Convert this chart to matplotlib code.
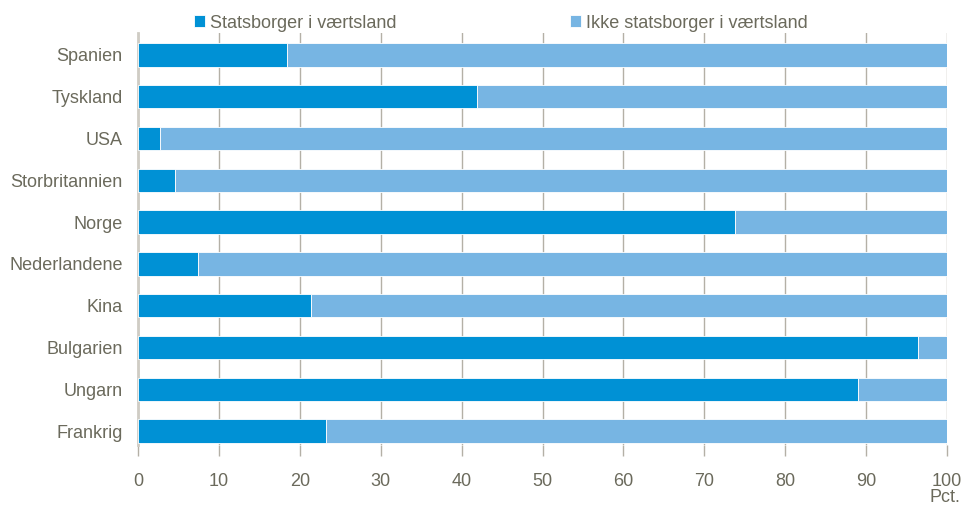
import matplotlib
matplotlib.use("Agg")
import matplotlib.pyplot as plt
import matplotlib.font_manager as fm

categories = ["Spanien", "Tyskland", "USA", "Storbritannien", "Norge",
              "Nederlandene", "Kina", "Bulgarien", "Ungarn", "Frankrig"]
statsborger = [18.4, 41.9, 2.7, 4.6, 73.8, 7.4, 21.4, 96.4, 89.0, 23.2]
ikke_statsborger = [100 - v for v in statsborger]
series_names = ["Statsborger i værtsland", "Ikke statsborger i værtsland"]
xticks = [0, 10, 20, 30, 40, 50, 60, 70, 80, 90, 100]

names = {f.name for f in fm.fontManager.ttflist}
family = "Liberation Sans Narrow" if "Liberation Sans Narrow" in names else "Liberation Sans"
plt.rcParams['font.family'] = [family, 'DejaVu Sans']

txt = "#6b6a5c"
c_dark = "#0091d5"
c_light = "#77b5e3"
grid_c = "#b4b0a6"
fs = 13

fig = plt.figure(figsize=(9.68, 5.08), dpi=100)
ax = fig.add_axes([138/968, 1-445/508, (947-138)/968, (445-33)/508])

y = list(range(len(categories)))
ax.barh(y, statsborger, height=0.56, color=c_dark, edgecolor="white", linewidth=0.6, zorder=3, label=series_names[0])
ax.barh(y, ikke_statsborger, left=statsborger, height=0.56, color=c_light, edgecolor="white", linewidth=0.6, zorder=3, label=series_names[1])

ax.set_xlim(0, 100)
ax.set_ylim(len(categories) - 1 + 0.335, -0.526)
ax.set_yticks(y)
ax.set_yticklabels(categories, fontsize=fs, color=txt)
ax.set_xticks(xticks)
ax.set_xticklabels([str(t) for t in xticks], fontsize=fs, color=txt)
ax.tick_params(axis='y', length=0, pad=11)
ax.tick_params(axis='x', length=8, width=1.0, color=grid_c, pad=12)
ax.xaxis.grid(True, color=grid_c, linewidth=1.0, zorder=0)
ax.set_axisbelow(True)
for s in ["top", "right", "bottom"]:
    ax.spines[s].set_visible(False)
ax.spines["left"].set_color("#cfccc4")
ax.spines["left"].set_linewidth(2)

fig.text(960/968, 1-497/508, "Pct.", ha="right", va="center", fontsize=fs, color=txt)

leg = fig.legend(loc="center left", bbox_to_anchor=(194/968, 1-23/508), ncol=2, frameon=False,
                 fontsize=fs, handlelength=0.6, handleheight=0.6, handletextpad=0.3,
                 columnspacing=9.6, borderpad=0, borderaxespad=0)
for t in leg.get_texts():
    t.set_color(txt)

fig.savefig("out.png", dpi=100)
